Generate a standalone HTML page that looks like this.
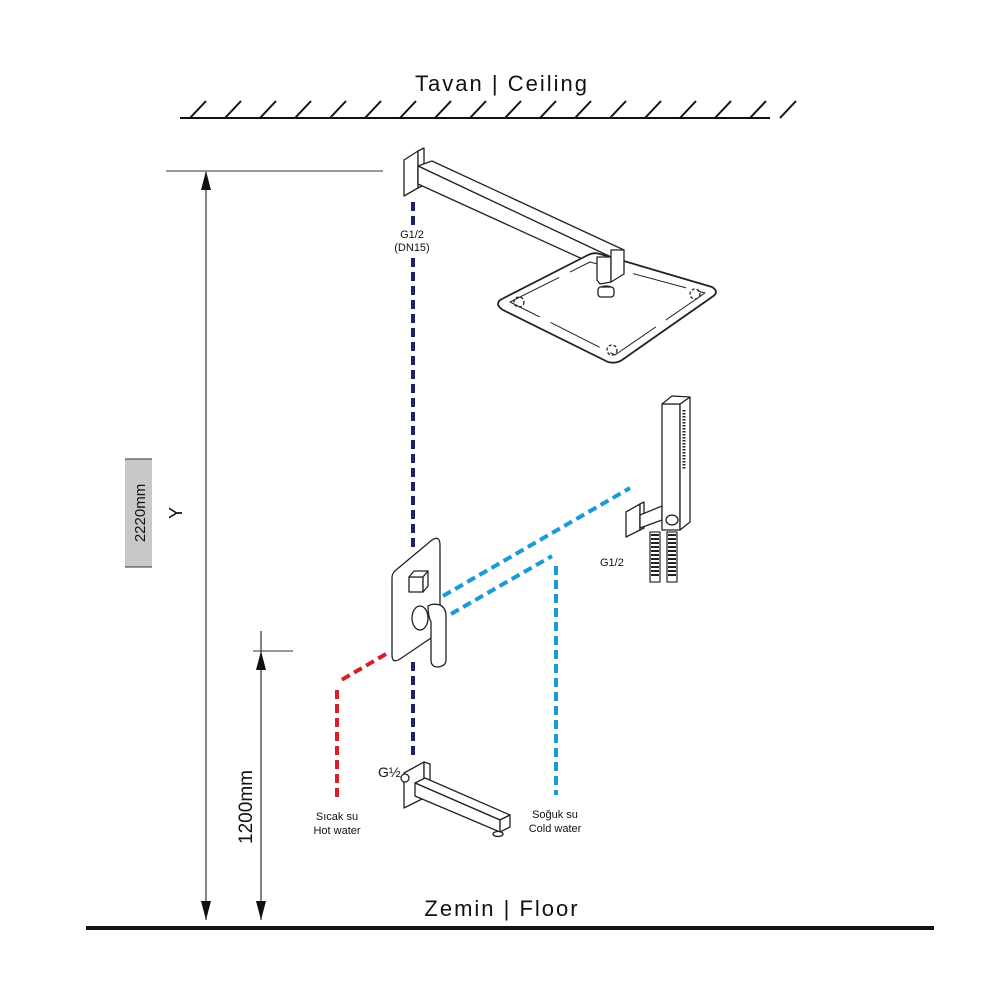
<!DOCTYPE html>
<html><head><meta charset="utf-8"><style>
html,body{margin:0;padding:0;background:#fff}
svg{display:block}
text{font-family:"Liberation Sans",sans-serif}
</style></head><body>
<svg width="1000" height="1000" viewBox="0 0 1000 1000" xmlns="http://www.w3.org/2000/svg">
<!-- Ceiling -->
<text x="502" y="91" font-size="22" text-anchor="middle" letter-spacing="2" fill="#111">Tavan | Ceiling</text>
<line x1="180" y1="118" x2="770" y2="118" stroke="#111" stroke-width="2"/>
<g stroke="#111" stroke-width="2">
<line x1="190" y1="118" x2="206" y2="101"/><line x1="225" y1="118" x2="241" y2="101"/>
<line x1="260" y1="118" x2="276" y2="101"/><line x1="295" y1="118" x2="311" y2="101"/>
<line x1="330" y1="118" x2="346" y2="101"/><line x1="365" y1="118" x2="381" y2="101"/>
<line x1="400" y1="118" x2="416" y2="101"/><line x1="435" y1="118" x2="451" y2="101"/>
<line x1="470" y1="118" x2="486" y2="101"/><line x1="505" y1="118" x2="521" y2="101"/>
<line x1="540" y1="118" x2="556" y2="101"/><line x1="575" y1="118" x2="591" y2="101"/>
<line x1="610" y1="118" x2="626" y2="101"/><line x1="645" y1="118" x2="661" y2="101"/>
<line x1="680" y1="118" x2="696" y2="101"/><line x1="715" y1="118" x2="731" y2="101"/>
<line x1="750" y1="118" x2="766" y2="101"/><line x1="780" y1="118" x2="796" y2="101"/>
</g>
<!-- Floor -->
<line x1="86" y1="928" x2="934" y2="928" stroke="#111" stroke-width="4"/>
<text x="502" y="916" font-size="22" text-anchor="middle" letter-spacing="2" fill="#111">Zemin | Floor</text>

<!-- Dimensions -->
<line x1="166" y1="171" x2="383" y2="171" stroke="#333" stroke-width="1"/>
<line x1="206" y1="172" x2="206" y2="920" stroke="#333" stroke-width="1.2"/>
<polygon points="206,171 201,190 211,190" fill="#111"/>
<polygon points="206,920 201,901 211,901" fill="#111"/>
<rect x="125" y="459" width="27" height="108" fill="#c8c8c8"/>
<line x1="125" y1="459" x2="152" y2="459" stroke="#333"/>
<line x1="125" y1="567" x2="152" y2="567" stroke="#333"/>
<text transform="translate(145,513) rotate(-90)" font-size="15" text-anchor="middle" fill="#111">2220mm</text>
<text transform="translate(182,513) rotate(-90)" font-size="18" text-anchor="middle" fill="#111">Y</text>
<line x1="261" y1="631" x2="261" y2="920" stroke="#333" stroke-width="1.2"/>
<line x1="253" y1="651" x2="293" y2="651" stroke="#333" stroke-width="1"/>
<polygon points="261,651 256,670 266,670" fill="#111"/>
<polygon points="261,920 256,901 266,901" fill="#111"/>
<text transform="translate(252,807) rotate(-90)" font-size="19" text-anchor="middle" fill="#111">1200mm</text>

<!-- pipes -->
<g stroke-width="4" fill="none" stroke-dasharray="9,5">
<line x1="413" y1="202" x2="413" y2="228" stroke="#1f2266"/>
<line x1="413" y1="258" x2="413" y2="548" stroke="#1f2266"/>
<line x1="413" y1="662" x2="413" y2="758" stroke="#1f2266"/>
<line x1="443" y1="596" x2="630" y2="488" stroke="#1a9ad6"/>
<line x1="451" y1="614" x2="552" y2="556" stroke="#1a9ad6"/>
<line x1="556" y1="566" x2="556" y2="795" stroke="#1a9ad6"/>
<line x1="386" y1="654" x2="338" y2="682" stroke="#d61f26"/>
<line x1="337" y1="690" x2="337" y2="800" stroke="#d61f26"/>
</g>
<text x="412" y="238" font-size="11" text-anchor="middle" fill="#111">G1/2</text>
<text x="412" y="251" font-size="11" text-anchor="middle" fill="#111">(DN15)</text>
<text x="600" y="566" font-size="11" fill="#111">G1/2</text>
<text x="337" y="820" font-size="11" text-anchor="middle" fill="#111">Sıcak su</text>
<text x="337" y="834" font-size="11" text-anchor="middle" fill="#111">Hot water</text>
<text x="555" y="818" font-size="11" text-anchor="middle" fill="#111">Soğuk su</text>
<text x="555" y="832" font-size="11" text-anchor="middle" fill="#111">Cold water</text>
<text x="378" y="777" font-size="14" fill="#111">G½</text>

<g stroke="#222" stroke-width="1.3" fill="#fff" stroke-linejoin="round">
<!-- shower arm -->
<polygon points="404,160 418,151 418,188 404,196"/>
<polygon points="418,151 424,148 424,185 418,188"/>
<polygon points="418,166 432,161 624,250 611,257"/>
<polygon points="418,166 611,257 611,272 418,184"/>
<!-- head plate -->
<path d="M500,300 L588,255 Q594,252 600,254 L712,287 Q720,292 712,297 L622,360 Q616,364 608,362 L503,310 Q495,305 500,300 Z" stroke-width="1.8"/>
<path d="M510,302 L590,262 L705,293 L615,355 Z" fill="none" stroke-width="1" stroke-dasharray="55,12"/>
<circle cx="519" cy="302" r="5" fill="none" stroke-dasharray="3,2"/>
<circle cx="695" cy="294" r="5" fill="none" stroke-dasharray="3,2"/>
<circle cx="612" cy="350" r="5" fill="none" stroke-dasharray="3,2"/>
<polygon points="597,257 611,257 611,282 600,284 597,280"/>
<polygon points="611,250 624,250 624,274 611,282"/>
<ellipse cx="606" cy="291" rx="8" ry="5"/>
<rect x="598" y="287" width="16" height="10" rx="3"/>
<!-- mixer -->
<path d="M396,570 L432,540 Q440,535 440,545 L440,626 Q440,632 434,636 L400,659 Q392,664 392,655 L392,578 Q392,573 396,570 Z"/>
<polygon points="409,577 423,577 423,592 409,592"/>
<polygon points="409,577 414,571 428,571 423,577"/>
<polygon points="423,577 428,571 428,586 423,592"/>
<ellipse cx="420" cy="618" rx="8" ry="12"/>
<path d="M428,606 Q433,603 440,605 Q446,608 446,616 L446,660 Q446,666 438,667 Q431,667 431,660 L431,622 Q428,616 428,606 Z"/>
<!-- spout -->
<polygon points="404,773 424,762 424,798 404,808"/>
<polygon points="424,762 430,764 430,798 424,798"/>
<circle cx="405" cy="778" r="4"/>
<polygon points="415,783 425,778 510,815 500,820"/>
<polygon points="415,783 500,820 500,832 415,796"/>
<polygon points="500,820 510,815 510,827 500,832"/>
<ellipse cx="498" cy="834" rx="5" ry="2.5"/>
<!-- hand shower -->
<polygon points="626,512 640,504 640,530 626,537"/>
<polygon points="640,504 644,502 644,528 640,530"/>
<polygon points="640,515 662,506 662,520 640,528"/>
<polygon points="662,404 680,404 680,530 662,530"/>
<polygon points="680,404 690,397 690,522 680,530"/>
<polygon points="662,404 672,396 690,397 680,404"/>
<path d="M684,410 L684,470" stroke-width="3" stroke-dasharray="1.5,1.5"/>
<ellipse cx="672" cy="520" rx="6" ry="5"/>
<rect x="650" y="532" width="10" height="50" fill="#fff" stroke="#333"/>
<rect x="667" y="532" width="10" height="50" fill="#fff" stroke="#333"/>
<path d="M651,535 L659,535 M651,539 L659,539 M651,543 L659,543 M651,547 L659,547 M651,551 L659,551 M651,555 L659,555 M651,559 L659,559 M651,563 L659,563 M651,567 L659,567 M651,571 L659,571 M651,575 L659,575 M668,535 L676,535 M668,539 L676,539 M668,543 L676,543 M668,547 L676,547 M668,551 L676,551 M668,555 L676,555 M668,559 L676,559 M668,563 L676,563 M668,567 L676,567 M668,571 L676,571 M668,575 L676,575" stroke-width="2"/>
</g>
</svg>
</body></html>
